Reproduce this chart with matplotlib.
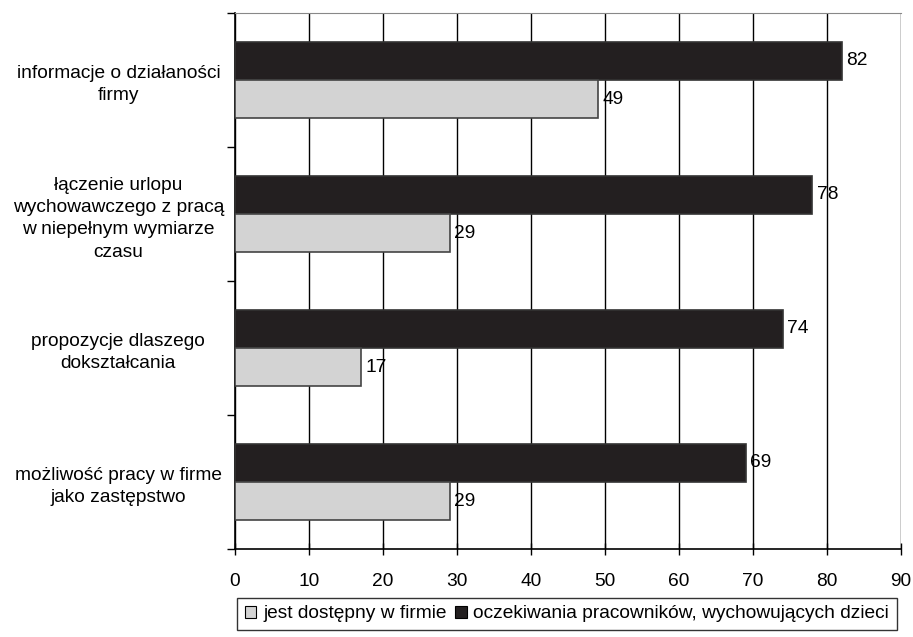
import matplotlib.pyplot as plt
import numpy as np
from matplotlib.patches import Patch

plt.rcParams['font.family'] = ['Liberation Sans', 'DejaVu Sans']

categories = [
    "informacje o działaności\nfirmy",
    "łączenie urlopu\nwychowawczego z pracą\nw niepełnym wymiarze\nczasu",
    "propozycje dlaszego\ndokształcania",
    "możliwość pracy w firme\njako zastępstwo",
]
dostepny = [49, 29, 17, 29]
oczekiwania = [82, 78, 74, 69]
series_names = ["jest dostępny w firmie",
                "oczekiwania pracowników, wychowujących dzieci"]
x_ticks = list(range(0, 91, 10))

fs = 13.8

fig = plt.figure(figsize=(9.13, 6.37), dpi=100)
ax = fig.add_axes([235 / 913, 1 - 549 / 637, 666 / 913, 536 / 637])

y = np.arange(len(categories))
h = 0.285
black = "#231f20"
grey = "#d3d3d3"

b1 = ax.barh(y - h / 2, oczekiwania, height=h, color=black, edgecolor="#333333", linewidth=1.2, zorder=3)
b2 = ax.barh(y + h / 2, dostepny, height=h, color=grey, edgecolor="#444444", linewidth=1.2, zorder=3)

for bars, vals in ((b1, oczekiwania), (b2, dostepny)):
    for bar, v in zip(bars, vals):
        ax.text(v + 0.6, bar.get_y() + bar.get_height() / 2, str(v),
                va="center", ha="left", fontsize=fs, color="black", zorder=4)

ax.set_xlim(0, 90)
ax.set_ylim(len(categories) - 0.5, -0.5)
ax.set_xticks(x_ticks)
ax.set_xticklabels([str(t) for t in x_ticks], fontsize=fs)
ax.tick_params(axis="x", direction="inout", length=8, width=1, pad=13)

ax.set_yticks(np.arange(-0.5, len(categories), 1.0))
ax.set_yticklabels([])
ax.set_yticks(y, minor=True)
ax.set_yticklabels(categories, minor=True, fontsize=fs, ha="center", linespacing=1.42)
ax.tick_params(axis="y", which="major", direction="out", length=6, width=1)
ax.tick_params(axis="y", which="minor", length=0, pad=84)

ax.xaxis.grid(True, color="black", linewidth=1, zorder=0)
ax.set_axisbelow(True)
ax.spines["top"].set_color("#888888")
ax.spines["right"].set_visible(False)
ax.spines["left"].set_linewidth(1.2)
ax.spines["bottom"].set_linewidth(1.2)

handles = [Patch(facecolor=grey, edgecolor="black", linewidth=0.8),
           Patch(facecolor=black, edgecolor="black", linewidth=0.8)]
leg = fig.legend(handles, series_names, loc="center", bbox_to_anchor=(567 / 913, 1 - 614 / 637),
                 ncol=2, fontsize=fs, frameon=True, fancybox=False, handlelength=0.6,
                 handleheight=0.6, handletextpad=0.35, columnspacing=0.45, borderpad=0.4,
                 borderaxespad=0)
leg.get_frame().set_edgecolor("black")
leg.get_frame().set_linewidth(1)

fig.savefig("out.png", dpi=100)
